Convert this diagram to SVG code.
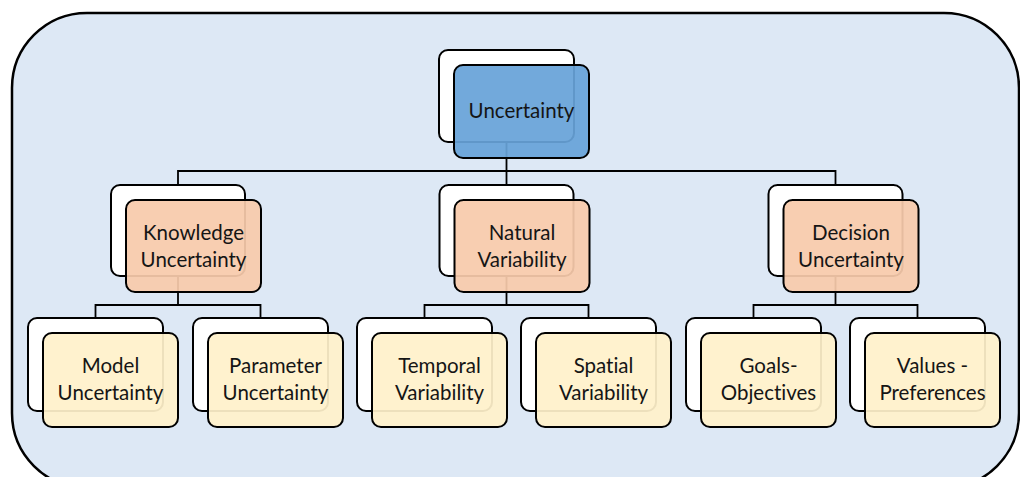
<svg xmlns="http://www.w3.org/2000/svg" width="1020" height="477" viewBox="0 0 1020 477">
<style>
.back{fill:#ffffff;stroke:#000;stroke-width:2}
.front{stroke:#000;stroke-width:2;fill-opacity:0.93}
.l1{fill:#67A2D8}
.l2{fill:#F8CAAB}
.l3{fill:#FFF1CA}
.conn{fill:none;stroke:#000;stroke-width:1.8}
text{font-family:Lato,"Open Sans","Liberation Sans",sans-serif;font-size:20.5px;fill:#151515;text-anchor:middle;font-variant-ligatures:none;font-feature-settings:"liga" 0}
</style>
<rect x="12" y="13" width="1007" height="475" rx="75" ry="75" fill="#DDE8F5" stroke="#000" stroke-width="2.5"/>
<g id="connectors">
<path class="conn" d="M178,185 V171 H835.5 V185 M506.5,142 V185"/>
<path class="conn" d="M178,276 V305 M95.5,318 V305 H260.5 V318"/>
<path class="conn" d="M506.5,276 V305 M424.5,318 V305 H588.5 V318"/>
<path class="conn" d="M835.5,276 V305 M753.5,318 V305 H917.5 V318"/>
</g>
<g id="uncertainty">
<rect class="back" x="439" y="50" width="135" height="92" rx="9"/>
<rect class="front l1" x="454" y="65" width="135" height="93" rx="9"/>
<text x="521.5" y="118">Uncertainty</text>
</g>
<g id="knowledge">
<rect class="back" x="111" y="185" width="134" height="91" rx="9"/>
<rect class="front l2" x="126" y="200" width="135" height="92" rx="9"/>
<text x="193.5" y="240">Knowledge</text>
<text x="193.5" y="267">Uncertainty</text>
</g>
<g id="natural">
<rect class="back" x="439.5" y="185" width="134" height="91" rx="9"/>
<rect class="front l2" x="454.5" y="200" width="135" height="92" rx="9"/>
<text x="522" y="240">Natural</text>
<text x="522" y="267">Variability</text>
</g>
<g id="decision">
<rect class="back" x="768.5" y="185" width="134" height="91" rx="9"/>
<rect class="front l2" x="783.5" y="200" width="135" height="92" rx="9"/>
<text x="851" y="240">Decision</text>
<text x="851" y="267">Uncertainty</text>
</g>
<g id="model">
<rect class="back" x="28" y="318" width="135" height="93" rx="9"/>
<rect class="front l3" x="43" y="333" width="135" height="94" rx="9"/>
<text x="110.5" y="373">Model</text>
<text x="110.5" y="400">Uncertainty</text>
</g>
<g id="parameter">
<rect class="back" x="193" y="318" width="135" height="93" rx="9"/>
<rect class="front l3" x="208" y="333" width="135" height="94" rx="9"/>
<text x="275.5" y="373">Parameter</text>
<text x="275.5" y="400">Uncertainty</text>
</g>
<g id="temporal">
<rect class="back" x="357" y="318" width="135" height="93" rx="9"/>
<rect class="front l3" x="372" y="333" width="135" height="94" rx="9"/>
<text x="439.5" y="373">Temporal</text>
<text x="439.5" y="400">Variability</text>
</g>
<g id="spatial">
<rect class="back" x="521" y="318" width="135" height="93" rx="9"/>
<rect class="front l3" x="536" y="333" width="135" height="94" rx="9"/>
<text x="603.5" y="373">Spatial</text>
<text x="603.5" y="400">Variability</text>
</g>
<g id="goals">
<rect class="back" x="686" y="318" width="135" height="93" rx="9"/>
<rect class="front l3" x="701" y="333" width="135" height="94" rx="9"/>
<text x="768.5" y="373">Goals-</text>
<text x="768.5" y="400">Objectives</text>
</g>
<g id="values">
<rect class="back" x="850" y="318" width="135" height="93" rx="9"/>
<rect class="front l3" x="865" y="333" width="135" height="94" rx="9"/>
<text x="932.5" y="373">Values -</text>
<text x="932.5" y="400">Preferences</text>
</g>
</svg>
